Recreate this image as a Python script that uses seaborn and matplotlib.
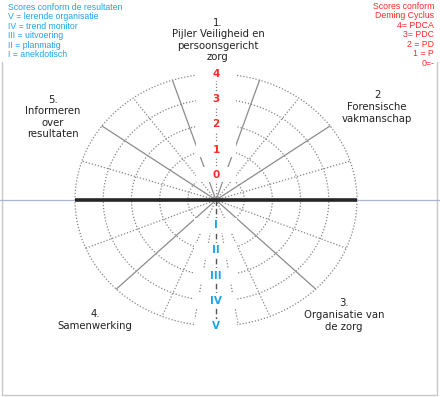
import numpy as np
import matplotlib.pyplot as plt
import seaborn as sns
from matplotlib.patches import Rectangle

sns.set_theme(style='white')
plt.rcParams['font.family'] = ['DejaVu Sans']

# niveaus (ringen) en labels op de verticale as
ring_levels = [1, 2, 3, 4, 5]
deming_labels = ['0', '1', '2', '3', '4']
result_labels = ['I', 'II', 'III', 'IV', 'V']

# hoeken van de spaken in graden
solid_spokes = [36, 72, 108, 144, 225, 315]
dotted_spokes = [18, 54, 126, 162, 202.5, 247.5, 292.5, 337.5]
side_spokes = [261, 279]

# pijlers rond het diagram
pillar_labels = ['1.\nPijler Veiligheid en\npersoonsgericht\nzorg',
                 '2\nForensische\nvakmanschap',
                 '3.\nOrganisatie van\nde zorg',
                 '4.\nSamenwerking',
                 '5.\nInformeren\nover\nresultaten']
pillar_x = [0.07, 5.71, 4.54, -4.29, -5.78]
pillar_y = [6.35, 3.69, -4.56, -4.76, 3.29]

# legendes
legend_results = ['Scores conform de resultaten', 'V = lerende organisatie', 'IV = trend monitor',
                  'III = uitvoering', 'II = planmatig', 'I = anekdotisch']
legend_deming = ['Scores conform', 'Deming Cyclus', '4= PDCA', '3= PDC', '2 = PD', '1 = P', '0=-']

grid_col = '#858585'
red = '#ff2a2a'
blue = '#1ea5ea'

fig = plt.figure(figsize=(4.4, 3.97), dpi=100)
ax = fig.add_axes([0, 0, 1, 1])
ax.set_xlim(-216 / 28.2, 224 / 28.2)
ax.set_ylim(-197 / 25.2, 200 / 25.2)
ax.axis('off')

rmax = ring_levels[-1]

# ringen
theta = np.linspace(0, 2 * np.pi, 400)
for r in ring_levels:
    sns.lineplot(x=r * np.cos(theta), y=r * np.sin(theta), sort=False, estimator=None,
                 color=grid_col, lw=0.9, linestyle=(0, (1, 1.5)), ax=ax, zorder=1)

# spaken
for a in solid_spokes:
    t = np.deg2rad(a)
    ax.plot([0, rmax * np.cos(t)], [0, rmax * np.sin(t)], color='#8c8c8c', lw=0.9, zorder=1)
for a in dotted_spokes:
    t = np.deg2rad(a)
    ax.plot([0, rmax * np.cos(t)], [0, rmax * np.sin(t)], color=grid_col, lw=0.9,
            linestyle=(0, (1, 1.5)), zorder=1)
for a in side_spokes:
    t = np.deg2rad(a)
    ax.plot([1.3 * np.cos(t), rmax * np.cos(t)], [1.3 * np.sin(t), rmax * np.sin(t)],
            color=grid_col, lw=0.9, linestyle=(0, (1, 1.5)), zorder=1)

# verticale as
ax.plot([0, 0], [0, rmax], color=grid_col, lw=0.9, linestyle=(0, (1, 1.5)), zorder=1)
ax.plot([0, 0], [0, -rmax], color='#555555', lw=1.0, linestyle=(0, (4, 2)), zorder=1)

# horizontale lijnen
ax.axhline(0, color='#a9b6cc', lw=0.9, zorder=5)
ax.plot([-rmax, rmax], [0, 0], color='#262626', lw=2.6, zorder=6, solid_capstyle='butt')

# labels op de verticale as, met witte achtergrond
for r, lab in zip(ring_levels, deming_labels):
    ax.add_patch(Rectangle((-0.72, r - 0.29), 1.44, 0.58, color='white', zorder=3, lw=0))
    ax.text(0, r, lab, color=red, fontsize=7.5, fontweight='bold', ha='center', va='center', zorder=4)
for r, lab in zip(ring_levels, result_labels):
    ax.add_patch(Rectangle((-0.78, -r - 0.29), 1.52, 0.58, color='white', zorder=3, lw=0))
    ax.text(0, -r, lab, color=blue, fontsize=7.5, fontweight='bold', ha='center', va='center', zorder=4)

# pijlernamen
for x, y, lab in zip(pillar_x, pillar_y, pillar_labels):
    ax.text(x, y, lab, fontsize=7.3, color='#222222', ha='center', va='center',
            multialignment='center', linespacing=1.2, zorder=4)

# legendes
ax.text(8 / 440, 1 - 3 / 397, '\n'.join(legend_results), transform=ax.transAxes,
        fontsize=6.3, color=blue, ha='left', va='top', linespacing=1.06,
        family=['Liberation Sans', 'DejaVu Sans'])
ax.text(434 / 440, 1 - 2 / 397, '\n'.join(legend_deming), transform=ax.transAxes,
        fontsize=6.3, color=red, ha='right', va='top', multialignment='right', linespacing=1.06,
        family=['Liberation Sans', 'DejaVu Sans'])

# kader
ax.plot([2 / 440, 2 / 440, 437 / 440, 437 / 440], [1 - 62 / 397, 1 - 395 / 397, 1 - 395 / 397, 1 - 62 / 397],
        transform=ax.transAxes, color='#c8c8c8', lw=1.0, zorder=2)

fig.savefig('out.png', dpi=100)
